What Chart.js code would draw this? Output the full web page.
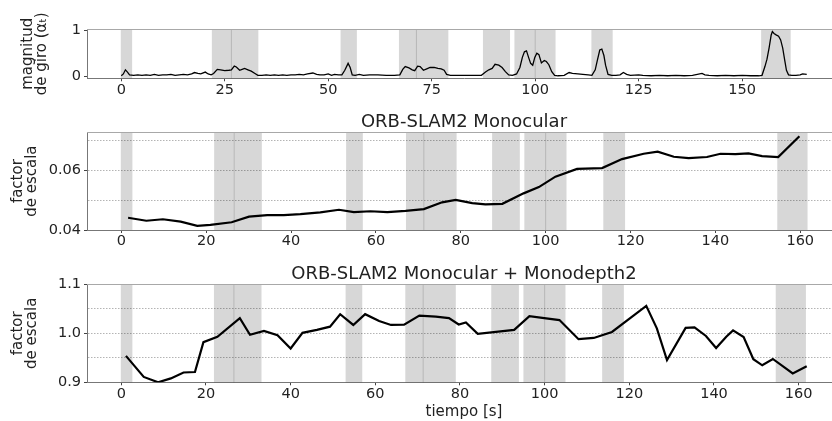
<!DOCTYPE html>
<html>
<head>
<meta charset="utf-8">
<script src="https://cdn.jsdelivr.net/npm/chart.js@4.4.1/dist/chart.umd.min.js"></script>
<style>
  html, body { margin: 0; padding: 0; background: #fff; overflow: hidden; }
  #wrap { position: relative; width: 832px; height: 421px; overflow: hidden; }
  #wrap canvas { position: absolute; left: 0; }
</style>
</head>
<body>
<div id="wrap">
  <canvas id="giro" width="841" height="105" style="top:0px"></canvas>
  <canvas id="orb" width="841" height="150" style="top:105px"></canvas>
  <canvas id="mono" width="841" height="166" style="top:255px"></canvas>
</div>
<script>
// turning segments [start, end] in seconds
const turnSpans = [
  [0, 2.5], [22, 26.6], [26.6, 33], [53.1, 56.8], [67.2, 71.3], [71.3, 78.9],
  [87.5, 93.8], [95.1, 100], [100, 104.8], [113.7, 118.6], [154.7, 161.6]
];

// rotation magnitude (alpha_t)
const giroTime = [
  0, 0.5, 1, 1.5, 2, 3, 4, 5, 6, 7, 8, 9, 10, 11, 12, 13, 14, 15, 16, 17, 17.7, 18.5, 19.2, 20.3, 21, 21.7,
  22.3, 23.2, 24, 25, 26, 26.6, 27.3, 27.8, 28.6, 29.2, 29.8, 30.6, 31.4, 32.3, 33,
  34, 35, 36, 37, 38, 39, 40, 41, 42, 43, 44, 45, 46.3, 47.2, 48, 49, 50, 50.8, 51.5, 52.5, 53.3,
  54, 54.8, 55.3, 55.8, 56.5, 57.5, 58.5, 60, 62, 64, 66, 67.3,
  68, 68.6, 69.5, 70.3, 70.9, 71.6, 72.2, 73, 73.8, 74.6, 75.6, 76.5, 77.3, 78, 78.6, 79.5,
  81, 83, 85, 87, 88, 88.8, 89.6, 90.3, 91.2, 92, 92.8, 93.6, 94.5, 95.5,
  96.3, 96.9, 97.4, 97.9, 98.4, 98.9, 99.4, 99.9, 100.4, 100.9, 101.5, 102.2, 102.7, 103.3, 104, 104.7,
  105.5, 107, 108.2, 109, 110.3, 111.5, 112.8, 113.7, 114.5, 115, 115.6, 116.1, 116.6, 117, 117.6, 118.5,
  119.5, 120.5, 121.3, 122.1, 123, 125, 126, 128, 130, 132, 134, 136, 138, 140.3, 141, 142, 144, 146,
  148, 150, 152, 154, 154.8, 155.5, 156, 156.5, 157, 157.3, 157.7, 158.2, 158.8, 159.3, 159.8, 160.3,
  160.7, 161.2, 162, 163, 164, 164.6, 165.6
];
const giroMag = [
  0.02, 0.06, 0.15, 0.10, 0.04, 0.03, 0.04, 0.03, 0.04, 0.03, 0.05, 0.03, 0.04, 0.04, 0.05, 0.03, 0.04, 0.05, 0.04, 0.06, 0.09, 0.07, 0.06, 0.10, 0.06, 0.04,
  0.07, 0.16, 0.15, 0.13, 0.14, 0.15, 0.23, 0.21, 0.14, 0.16, 0.18, 0.15, 0.12, 0.07, 0.03,
  0.03, 0.04, 0.03, 0.04, 0.03, 0.04, 0.03, 0.04, 0.04, 0.05, 0.04, 0.06, 0.08, 0.05, 0.04, 0.04, 0.06, 0.03, 0.05, 0.04, 0.04,
  0.14, 0.29, 0.20, 0.04, 0.03, 0.05, 0.03, 0.04, 0.04, 0.03, 0.03, 0.04,
  0.16, 0.22, 0.19, 0.15, 0.13, 0.23, 0.22, 0.14, 0.17, 0.20, 0.20, 0.18, 0.17, 0.14, 0.05, 0.03,
  0.03, 0.03, 0.03, 0.03, 0.10, 0.15, 0.18, 0.27, 0.25, 0.20, 0.11, 0.04, 0.03, 0.06,
  0.20, 0.42, 0.54, 0.56, 0.42, 0.29, 0.25, 0.42, 0.51, 0.48, 0.30, 0.35, 0.33, 0.26, 0.11, 0.03,
  0.02, 0.03, 0.09, 0.07, 0.06, 0.05, 0.04, 0.03, 0.15, 0.35, 0.58, 0.60, 0.46, 0.25, 0.05, 0.03,
  0.03, 0.04, 0.09, 0.05, 0.03, 0.04, 0.03, 0.02, 0.03, 0.02, 0.03, 0.02, 0.03, 0.07, 0.04, 0.03, 0.02, 0.03,
  0.02, 0.03, 0.02, 0.02, 0.03, 0.22, 0.38, 0.62, 0.90, 0.98, 0.94, 0.91, 0.88, 0.80, 0.62, 0.35,
  0.14, 0.04, 0.03, 0.03, 0.04, 0.06, 0.05
];

// ORB-SLAM2 monocular scale factor
const orbTime = [
  1.6, 5.9, 9.8, 14.0, 17.9, 21.0, 26.0, 30.1, 34.4, 38.3, 42.2, 46.9, 51.3, 54.8, 58.7, 62.7, 67.0, 71.3,
  75.6, 78.8, 82.7, 85.8, 89.8, 94.8, 98.4, 102.3, 107.4, 113.3, 118.0, 123.1, 126.4, 130.2, 133.7, 138.0,
  141.2, 144.7, 147.8, 151.0, 154.8, 159.8
];
const orbScale = [
  0.0441, 0.0431, 0.0436, 0.0428, 0.0414, 0.0417, 0.0426, 0.0445, 0.0450, 0.0450, 0.0453, 0.0459, 0.0468,
  0.0460, 0.0463, 0.0460, 0.0464, 0.0470, 0.0493, 0.0501, 0.0490, 0.0486, 0.0488, 0.0523, 0.0544, 0.0579,
  0.0605, 0.0608, 0.0638, 0.0656, 0.0663, 0.0646, 0.0641, 0.0645, 0.0656, 0.0655, 0.0657, 0.0648, 0.0645, 0.0715
];

// ORB-SLAM2 monocular + Monodepth2 scale factor
const monoTime = [
  1.1, 5.3, 8.7, 11.7, 14.7, 17.4, 19.4, 22.7, 28.0, 30.4, 33.7, 36.9, 40.0, 42.8, 46.2, 49.3, 51.7, 54.8,
  57.6, 60.9, 63.7, 66.8, 70.4, 74.3, 77.4, 79.7, 81.4, 84.2, 92.8, 96.4, 99.9, 103.5, 108.0, 111.6, 115.9,
  124.0, 126.5, 128.9, 133.3, 135.4, 138.1, 140.5, 142.9, 144.5, 147.0, 149.3, 151.4, 153.9, 158.6, 161.9
];
const monoScale = [
  0.954, 0.911, 0.900, 0.908, 0.920, 0.921, 0.982, 0.993, 1.031, 0.997, 1.005, 0.996, 0.969, 1.001, 1.007,
  1.0135, 1.039, 1.017, 1.039, 1.025, 1.017, 1.0176, 1.036, 1.034, 1.031, 1.018, 1.022, 0.999, 1.007, 1.035,
  1.031, 1.027, 0.988, 0.9905, 1.0027, 1.056, 1.010, 0.9455, 1.011, 1.012, 0.9945, 0.970, 0.993, 1.006,
  0.9925, 0.947, 0.9347, 0.9476, 0.918, 0.9327
];

// labelled y ticks
const giroYTicks = [0, 1];
const orbYTicks = [0.04, 0.06];
const monoYTicks = [0.9, 1.0, 1.1];

const FONT = "'DejaVu Sans', sans-serif";
const TEXT = '#222';
const SPINE = '#777';

// shaded turning segments + top spine
const turnSpanPlugin = {
  id: 'turnSpans',
  beforeDatasetsDraw(chart) {
    const { ctx, chartArea: area, scales } = chart;
    ctx.save();
    ctx.fillStyle = 'rgba(0, 0, 0, 0.155)';
    for (const [start, end] of turnSpans) {
      const x0 = scales.x.getPixelForValue(start) - 0.5;
      const x1 = scales.x.getPixelForValue(end) + 0.5;
      ctx.fillRect(x0, area.top, x1 - x0, area.bottom - area.top);
    }
    ctx.strokeStyle = '#a8a8a8';
    ctx.lineWidth = 1;
    ctx.beginPath();
    ctx.moveTo(area.left, Math.round(area.top) + 0.5);
    ctx.lineTo(area.right, Math.round(area.top) + 0.5);
    ctx.stroke();
    ctx.restore();
  }
};

function isShown(list, v) {
  return list.some(s => Math.abs(s - v) < 1e-9);
}

function buildPanel(canvasId, p) {
  return new Chart(document.getElementById(canvasId), {
    type: 'line',
    data: {
      datasets: [{
        data: p.times.map((t, i) => ({ x: t, y: p.values[i] })),
        borderColor: '#000',
        borderWidth: p.lineWidth,
        pointRadius: 0,
        tension: 0,
        fill: false
      }]
    },
    options: {
      responsive: false,
      animation: false,
      devicePixelRatio: 1,
      layout: { padding: { top: p.padTop || 0, left: 0, right: 0, bottom: 0 } },
      plugins: {
        legend: { display: false },
        tooltip: { enabled: false },
        title: p.title ? {
          display: true,
          text: p.title,
          fullSize: false,
          color: TEXT,
          font: { family: FONT, size: 18, weight: 'normal', lineHeight: 1 },
          padding: { top: p.titleTop, bottom: p.titleBottom }
        } : { display: false }
      },
      scales: {
        x: {
          type: 'linear',
          min: p.xMin,
          max: p.xMax,
          afterFit: s => { s.height = p.xHeight; },
          ticks: {
            stepSize: p.xStep,
            includeBounds: false,
            autoSkip: false,
            maxRotation: 0,
            padding: 0,
            color: TEXT,
            font: { family: FONT, size: 14.5 },
            callback: v => String(v)
          },
          grid: { display: true, drawOnChartArea: false, tickLength: 3, tickColor: '#444' },
          border: { color: SPINE, width: 1 },
          title: p.xTitle ? {
            display: true,
            text: p.xTitle,
            color: TEXT,
            font: { family: FONT, size: 15 },
            padding: { top: 0, bottom: 0 }
          } : { display: false }
        },
        y: {
          type: 'linear',
          min: p.yMin,
          max: p.yMax,
          afterFit: s => { s.width = 87; },
          ticks: {
            stepSize: p.yStep,
            includeBounds: false,
            autoSkip: false,
            padding: 3,
            color: TEXT,
            font: { family: FONT, size: 14.5 },
            callback: v => isShown(p.yLabels, v) ? v.toFixed(p.yDigits) : ''
          },
          grid: {
            display: true,
            drawOnChartArea: p.yGrid,
            color: '#b4b4b4',
            lineWidth: 1,
            tickLength: 3,
            tickColor: c => isShown(p.yLabels, c.tick.value) ? '#444' : 'rgba(0,0,0,0)'
          },
          border: { color: SPINE, width: 1, dash: [1.5, 1.5] },
          title: {
            display: true,
            text: p.yTitle,
            color: TEXT,
            font: { family: FONT, size: 15, lineHeight: 0.95 },
            padding: { top: p.yTitlePad, bottom: 0 }
          }
        }
      }
    },
    plugins: [turnSpanPlugin]
  });
}

buildPanel('giro', {
  times: giroTime, values: giroMag, lineWidth: 1.3,
  padTop: 29.3, xHeight: 26.7,
  xMin: -8.28, xMax: 173.88, xStep: 25,
  yMin: -0.035, yMax: 1.03, yStep: 1, yLabels: giroYTicks, yDigits: 0, yGrid: false,
  yTitle: ['magnitud', 'de giro (\u03b1\u209c)'], yTitlePad: 21
});

buildPanel('orb', {
  times: orbTime, values: orbScale, lineWidth: 2.2,
  title: 'ORB-SLAM2 Monocular', titleTop: 8.8, titleBottom: 0.5,
  xHeight: 25,
  xMin: -8.08, xMax: 169.6, xStep: 20,
  yMin: 0.04, yMax: 0.0728, yStep: 0.01, yLabels: orbYTicks, yDigits: 2, yGrid: true,
  yTitle: ['factor', 'de escala'], yTitlePad: 11
});

buildPanel('mono', {
  times: monoTime, values: monoScale, lineWidth: 2.2,
  title: 'ORB-SLAM2 Monocular + Monodepth2', titleTop: 10, titleBottom: 1.3,
  xHeight: 38.7, xTitle: 'tiempo [s]',
  xMin: -8.1, xMax: 170.0, xStep: 20,
  yMin: 0.9, yMax: 1.1, yStep: 0.05, yLabels: monoYTicks, yDigits: 1, yGrid: true,
  yTitle: ['factor', 'de escala'], yTitlePad: 11
});
</script>
</body>
</html>
